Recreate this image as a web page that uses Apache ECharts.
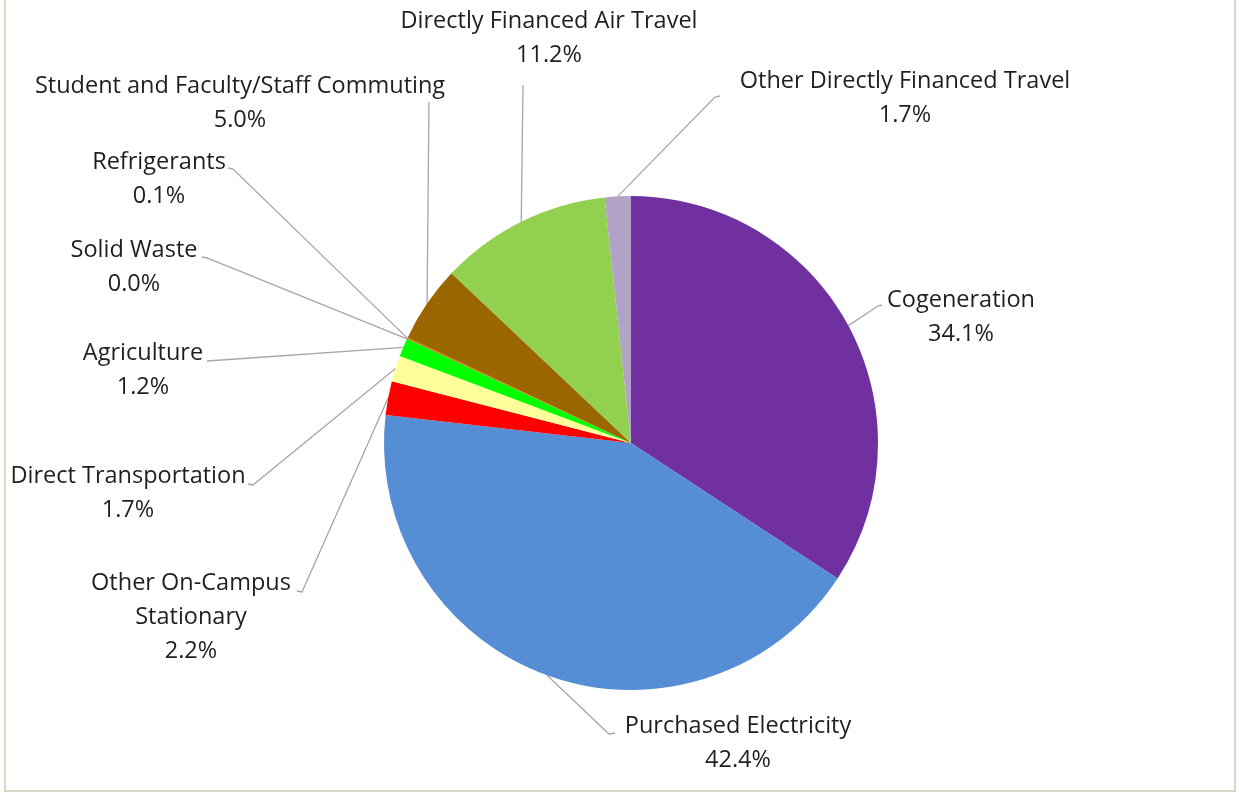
<!DOCTYPE html>
<html>
<head>
<meta charset="utf-8">
<script src="https://cdn.jsdelivr.net/npm/echarts@6/dist/echarts.min.js"></script>
<style>
  html, body { margin: 0; padding: 0; background: #ffffff; }
  #chart { width: 1239px; height: 793px; }
</style>
</head>
<body>
<div id="chart"></div>
<script>
// ---- Data ----
const categories = [
  'Cogeneration',
  'Purchased Electricity',
  'Other On-Campus Stationary',
  'Direct Transportation',
  'Agriculture',
  'Solid Waste',
  'Refrigerants',
  'Student and Faculty/Staff Commuting',
  'Directly Financed Air Travel',
  'Other Directly Financed Travel'
];
const labelNames = [
  'Cogeneration',
  'Purchased Electricity',
  'Other On-Campus\nStationary',
  'Direct Transportation',
  'Agriculture',
  'Solid Waste',
  'Refrigerants',
  'Student and Faculty/Staff Commuting',
  'Directly Financed Air Travel',
  'Other Directly Financed Travel'
];
const values = [34.1, 42.4, 2.2, 1.7, 1.2, 0.0, 0.1, 5.0, 11.2, 1.7];

// ---- Styles ----
const colors = ['#7030A0', '#558ED5', '#FF0000', '#FFFF99', '#00FF00',
                '#4F81BD', '#E46C0A', '#996600', '#92D050', '#B3A2C7'];

// label placement: center x, top y of text block, end point of leader line, hook direction
const labelPos = [
  { x: 961, y: 283, end: [882, 305], hook: -4 },
  { x: 738, y: 709, end: [615, 733], hook: -6 },
  { x: 191, y: 566, end: [297, 591], hook: 5 },
  { x: 128, y: 459, end: [248, 484], hook: 5 },
  { x: 143, y: 336, end: [207, 361], hook: 0 },
  { x: 134, y: 233, end: [202, 257], hook: 5 },
  { x: 159, y: 145, end: [228, 168], hook: 5 },
  { x: 240, y: 69,  end: [429, 102], hook: 0 },
  { x: 549, y: 4,   end: [523, 85],  hook: 0 },
  { x: 905, y: 64,  end: [720, 96],  hook: -5 }
];

const chart = echarts.init(document.getElementById('chart'), null, { renderer: 'canvas' });

const seriesData = categories.map((c, i) => ({
  name: c,
  value: values[i],
  itemStyle: { color: colors[i] }
}));

chart.setOption({
  backgroundColor: '#ffffff',
  animation: false,
  graphic: [
    { type: 'rect', shape: { x: 5, y: -10, width: 1230, height: 801 },
      style: { fill: 'none', stroke: '#D9D7C6', lineWidth: 2 }, silent: true }
  ],
  series: [{
    type: 'pie',
    center: [631, 443],
    radius: 247,
    startAngle: 90,
    clockwise: true,
    avoidLabelOverlap: false,
    minShowLabelAngle: -1,
    itemStyle: { borderWidth: 0 },
    label: {
      show: true,
      position: 'outside',
      fontFamily: '"Open Sans", Lato, sans-serif',
      fontSize: 23.5,
      lineHeight: 34,
      color: '#1f1f1f',
      align: 'center',
      formatter: (p) => labelNames[p.dataIndex] + '\n' + values[p.dataIndex].toFixed(1) + '%'
    },
    labelLine: {
      show: true,
      length: 20,
      length2: 20,
      lineStyle: { color: '#A6A6A6', width: 1.3 }
    },
    labelLayout: function (params) {
      const p = labelPos[params.dataIndex];
      const start = (params.labelLinePoints && params.labelLinePoints[0]) || p.end;
      const pts = [start];
      if (p.hook !== 0) pts.push([p.end[0] + p.hook, p.end[1] + 1]);
      pts.push(p.end);
      return {
        x: p.x,
        y: p.y,
        align: 'center',
        verticalAlign: 'top',
        labelLinePoints: pts
      };
    },
    data: seriesData
  }]
});
</script>
</body>
</html>
